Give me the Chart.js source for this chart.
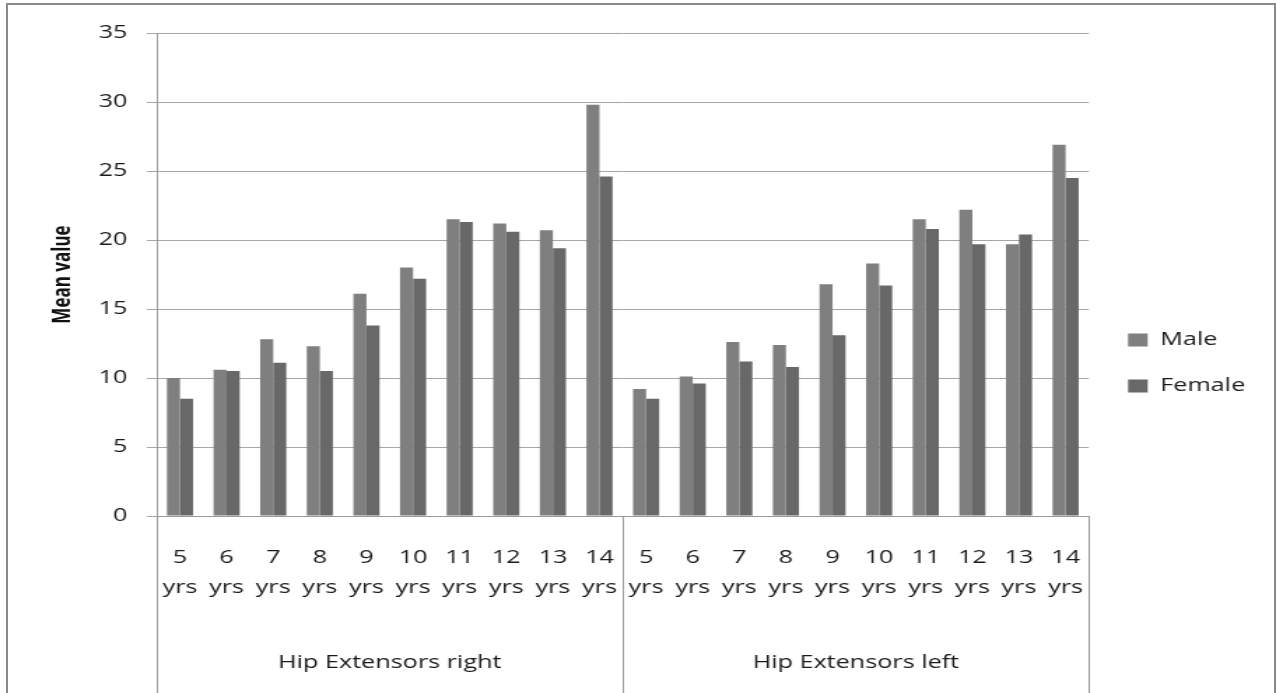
<!DOCTYPE html>
<html>
<head>
<meta charset="utf-8">
<script src="https://cdn.jsdelivr.net/npm/chart.js@4.4.1/dist/chart.umd.min.js"></script>
<style>
  html, body { margin: 0; padding: 0; background: #fff; overflow: hidden; }
  #frame {
    position: absolute; left: 6px; top: 3px; width: 1270px; height: 720px;
    box-sizing: border-box; border: 2px solid #8a8a8a; border-bottom: none;
  }
  #chart {
    position: absolute; left: 0; top: 0;
    transform: scaleX(1.3991); transform-origin: 0 0;
  }
</style>
</head>
<body>
<div id="frame"></div>
<canvas id="chart" width="912" height="693"></canvas>
<script>
// source picture is stretched sideways, so the canvas is drawn narrow and scaled by CSS
const ages = ['5', '6', '7', '8', '9', '10', '11', '12', '13', '14'];
const groups = ['Hip Extensors right', 'Hip Extensors left'];

const maleRight = [10.0, 10.6, 12.8, 12.3, 16.1, 18.0, 21.5, 21.2, 20.7, 29.8];
const femaleRight = [8.5, 10.5, 11.1, 10.5, 13.8, 17.2, 21.3, 20.6, 19.4, 24.6];
const maleLeft = [9.2, 10.1, 12.6, 12.4, 16.8, 18.3, 21.5, 22.2, 19.7, 26.9];
const femaleLeft = [8.5, 9.6, 11.2, 10.8, 13.1, 16.7, 20.8, 19.7, 20.4, 24.5];

const yTicks = [0, 5, 10, 15, 20, 25, 30, 35];

const labels = groups.flatMap(() => ages.map((a) => [a, 'yrs']));
const FONT = "'Open Sans', 'DejaVu Sans', sans-serif";

// vertical dividers below the axis (group boundaries)
const dividers = {
  id: 'dividers',
  afterDraw(chart) {
    const { ctx, chartArea, scales } = chart;
    const x = scales.x;
    const mid = (x.getPixelForValue(ages.length - 1) + x.getPixelForValue(ages.length)) / 2;
    ctx.save();
    ctx.strokeStyle = '#9a9a9a';
    ctx.lineWidth = 1;
    [chartArea.left, mid, chartArea.right].forEach((px) => {
      ctx.beginPath();
      ctx.moveTo(Math.round(px) + 0.5, chartArea.bottom);
      ctx.lineTo(Math.round(px) + 0.5, chart.height);
      ctx.stroke();
    });
    ctx.restore();
  },
};

new Chart(document.getElementById('chart'), {
  type: 'bar',
  data: {
    labels: labels,
    datasets: [
      {
        label: 'Male',
        data: maleRight.concat(maleLeft),
        backgroundColor: '#7f7f7f',
        xAxisID: 'x',
      },
      {
        label: 'Female',
        data: femaleRight.concat(femaleLeft),
        backgroundColor: '#686868',
        xAxisID: 'x',
      },
    ],
  },
  options: {
    responsive: false,
    animation: false,
    devicePixelRatio: 1,
    layout: { padding: { top: 33, left: 0, right: 12, bottom: 0 } },
    datasets: {
      bar: { categoryPercentage: 0.56, barPercentage: 1.0 },
    },
    plugins: {
      tooltip: { enabled: false },
      legend: {
        position: 'right',
        align: 'center',
        labels: {
          boxWidth: 14,
          boxHeight: 13,
          padding: 28,
          color: '#1a1a1a',
          font: { family: FONT, size: 18 },
        },
      },
    },
    scales: {
      x: {
        position: 'bottom',
        grid: { display: false },
        border: { display: true, color: '#9a9a9a', width: 1 },
        ticks: {
          color: '#1a1a1a',
          padding: 19,
          maxRotation: 0,
          autoSkip: false,
          font: { family: FONT, size: 18, lineHeight: 1.67 },
        },
        afterFit: (s) => { s.height = 84; },
      },
      group: {
        type: 'category',
        position: 'bottom',
        labels: groups,
        offset: true,
        grid: { display: false },
        border: { display: false },
        ticks: {
          color: '#1a1a1a',
          padding: 44,
          font: { family: FONT, size: 18 },
        },
        afterFit: (s) => { s.height = 93; },
      },
      y: {
        min: 0,
        max: 35,
        afterBuildTicks: (s) => { s.ticks = yTicks.map((v) => ({ value: v })); },
        grid: { color: '#a6a6a6', lineWidth: 1, tickLength: 7 },
        border: { display: true, color: '#9a9a9a', width: 1 },
        ticks: {
          color: '#1a1a1a',
          padding: 14,
          font: { family: FONT, size: 18 },
        },
        title: {
          display: true,
          text: 'Mean value',
          color: '#111',
          padding: { top: 35, bottom: 0 },
          font: { family: FONT, size: 17, weight: 'bold' },
        },
        afterFit: (s) => { s.width = 112; },
      },
    },
  },
  plugins: [dividers],
});
</script>
</body>
</html>
